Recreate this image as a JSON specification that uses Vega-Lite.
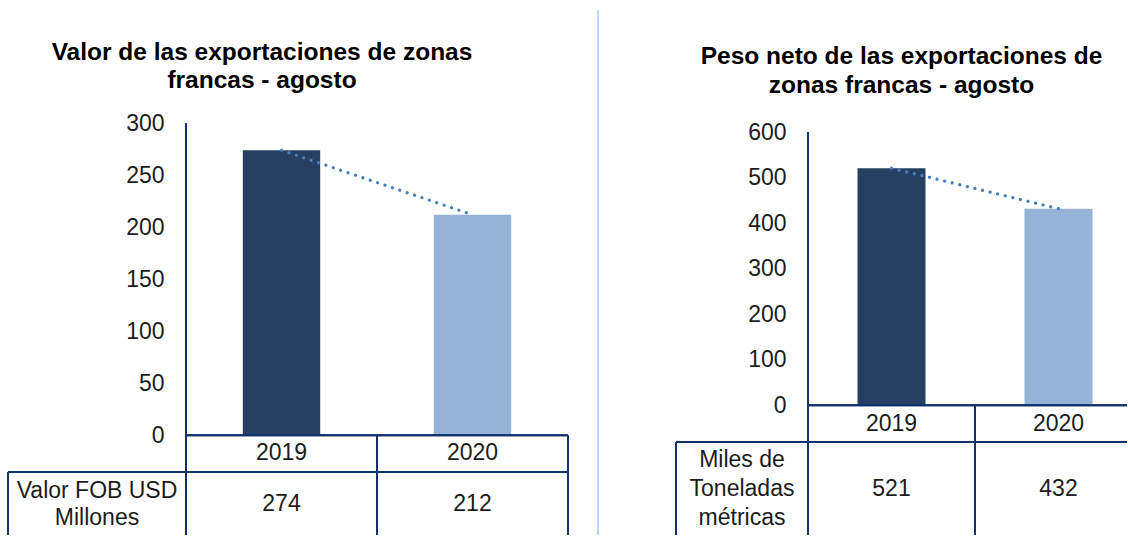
{
  "$schema": "https://vega.github.io/schema/vega-lite/v6.json",
  "padding": {"left": 7, "top": 9, "right": 0, "bottom": 0},
  "autosize": {"type": "pad"},
  "background": "white",
  "config": {
    "view": {"stroke": null},
    "font": "Liberation Sans",
    "text": {"font": "Liberation Sans", "fontSize": 23, "color": "#1c1c1c"}
  },
  "bounds": "flush",
  "spacing": 0,
  "resolve": {"scale": {"x": "independent", "y": "independent"}},
  "hconcat": [
    {
      "width": 178,
      "height": 525,
      "data": {"values": [{"label": "Valor FOB USD\nMillones"}]},
      "layer": [
        {
          "mark": {"type": "rule", "color": "#13306E", "strokeWidth": 2},
          "encoding": {
            "y": {"datum": -35.29, "type": "quantitative", "scale": {"domain": [-95.91, 408.89], "nice": false, "zero": false}, "axis": null}
          }
        },
        {
          "mark": {"type": "rule", "color": "#13306E", "strokeWidth": 2},
          "encoding": {
            "x": {"datum": 0, "type": "quantitative", "scale": {"domain": [0, 1]}, "axis": null},
            "y": {"datum": -35.29, "type": "quantitative"},
            "y2": {"datum": -95.91}
          }
        },
        {
          "mark": {"type": "text", "lineBreak": "\n", "lineHeight": 27.5, "align": "center", "baseline": "middle", "font": "Liberation Sans", "fontSize": 23, "color": "#1c1c1c"},
          "encoding": {
            "text": {"field": "label", "type": "nominal"},
            "y": {"datum": -53.56, "type": "quantitative"}
          }
        }
      ]
    },
    {
      "width": 382,
      "height": 525,
      "title": {
        "text": ["Valor de las exportaciones de zonas", "francas - agosto"],
        "font": "Liberation Sans", "fontSize": 24.5, "fontWeight": "bold", "color": "#000000",
        "anchor": "middle", "frame": "group", "dx": -115, "offset": -95.5, "baseline": "middle", "lineHeight": 28.5
      },
      "data": {"values": [{"year": "2019", "value": 274}, {"year": "2020", "value": 212}]},
      "layer": [
        {
          "mark": {"type": "bar", "width": {"band": 0.405}},
          "encoding": {
            "x": {"field": "year", "type": "nominal", "scale": {"domain": ["2019", "2020"], "paddingInner": 0, "paddingOuter": 0}, "axis": null},
            "y": {
              "field": "value", "type": "quantitative",
              "scale": {"domain": [-95.91, 408.89], "nice": false, "zero": false},
              "axis": {"values": [0, 50, 100, 150, 200, 250, 300], "domain": false, "ticks": false, "grid": false, "title": null, "labelPadding": 22, "labelFont": "Liberation Sans", "labelFontSize": 23, "labelColor": "#1c1c1c", "labelFlush": false, "labelOverlap": false}
            },
            "color": {"field": "year", "type": "nominal", "scale": {"domain": ["2019", "2020"], "range": ["#264061", "#95B3D7"]}, "legend": null}
          }
        },
        {
          "mark": {"type": "line", "color": "#4A7EBB", "strokeWidth": 3.2, "strokeDash": [0.1, 7.7], "strokeCap": "round"},
          "encoding": {
            "x": {"field": "year", "type": "nominal"},
            "y": {"field": "value", "type": "quantitative"}
          }
        },
        {
          "mark": {"type": "rule", "color": "#13306E", "strokeWidth": 2},
          "encoding": {
            "x": {"field": "year", "type": "nominal", "bandPosition": 1},
            "y": {"datum": 0, "type": "quantitative"},
            "y2": {"datum": -95.91}
          }
        },
        {
          "mark": {"type": "rule", "color": "#13306E", "strokeWidth": 2},
          "encoding": {
            "x": {"datum": "2019", "type": "nominal", "bandPosition": 0},
            "y": {"datum": 300, "type": "quantitative"},
            "y2": {"datum": -95.91}
          }
        },
        {
          "mark": {"type": "rule", "color": "#13306E", "strokeWidth": 2},
          "encoding": {"y": {"datum": 0, "type": "quantitative"}}
        },
        {
          "mark": {"type": "rule", "color": "#13306E", "strokeWidth": 2},
          "encoding": {"y": {"datum": -35.29, "type": "quantitative"}}
        },
        {
          "mark": {"type": "text", "align": "center", "baseline": "middle", "font": "Liberation Sans", "fontSize": 23, "color": "#1c1c1c"},
          "encoding": {
            "x": {"field": "year", "type": "nominal"},
            "text": {"field": "year", "type": "nominal"},
            "y": {"datum": -17.31, "type": "quantitative"}
          }
        },
        {
          "mark": {"type": "text", "align": "center", "baseline": "middle", "font": "Liberation Sans", "fontSize": 23, "color": "#1c1c1c"},
          "encoding": {
            "x": {"field": "year", "type": "nominal"},
            "text": {"field": "value", "type": "quantitative"},
            "y": {"datum": -66.35, "type": "quantitative"}
          }
        }
      ]
    },
    {
      "width": 30,
      "height": 525,
      "data": {"values": [{"divider": "panel"}]},
      "mark": {"type": "rule", "color": "#A9C4E8", "strokeWidth": 1.5},
      "encoding": {"x": {"datum": 1, "type": "quantitative", "scale": {"domain": [0, 1]}, "axis": null}}
    },
    {
      "width": 78,
      "height": 525,
      "data": {"values": [{"divider": "gap"}]},
      "mark": {"type": "rule", "opacity": 0},
      "encoding": {"x": {"datum": 0, "type": "quantitative", "scale": {"domain": [0, 1]}, "axis": null}}
    },
    {
      "width": 132,
      "height": 525,
      "data": {"values": [{"label": "Miles de\nToneladas\nmétricas"}]},
      "layer": [
        {
          "mark": {"type": "rule", "color": "#13306E", "strokeWidth": 2},
          "encoding": {
            "y": {"datum": -80.66, "type": "quantitative", "scale": {"domain": [-285.16, 868.68], "nice": false, "zero": false}, "axis": null}
          }
        },
        {
          "mark": {"type": "rule", "color": "#13306E", "strokeWidth": 2},
          "encoding": {
            "x": {"datum": 0, "type": "quantitative", "scale": {"domain": [0, 1]}, "axis": null},
            "y": {"datum": -80.66, "type": "quantitative"},
            "y2": {"datum": -285.16}
          }
        },
        {
          "mark": {"type": "text", "lineBreak": "\n", "lineHeight": 29, "align": "center", "baseline": "middle", "font": "Liberation Sans", "fontSize": 23, "color": "#1c1c1c"},
          "encoding": {
            "text": {"field": "label", "type": "nominal"},
            "y": {"datum": -120.88, "type": "quantitative"}
          }
        }
      ]
    },
    {
      "width": 319,
      "height": 525,
      "title": {
        "text": ["Peso neto de las exportaciones de", "zonas francas - agosto"],
        "font": "Liberation Sans", "fontSize": 24.5, "fontWeight": "bold", "color": "#000000",
        "anchor": "middle", "frame": "group", "dx": -66, "offset": -100.25, "baseline": "middle", "lineHeight": 28.5
      },
      "data": {"values": [{"year": "2019", "value": 521}, {"year": "2020", "value": 432}]},
      "layer": [
        {
          "mark": {"type": "bar", "width": {"band": 0.407}},
          "encoding": {
            "x": {"field": "year", "type": "nominal", "scale": {"domain": ["2019", "2020"], "paddingInner": 0, "paddingOuter": 0, "range": [0, 334]}, "axis": null},
            "y": {
              "field": "value", "type": "quantitative",
              "scale": {"domain": [-285.16, 868.68], "nice": false, "zero": false},
              "axis": {"values": [0, 100, 200, 300, 400, 500, 600], "domain": false, "ticks": false, "grid": false, "title": null, "labelPadding": 22, "labelFont": "Liberation Sans", "labelFontSize": 23, "labelColor": "#1c1c1c", "labelFlush": false, "labelOverlap": false}
            },
            "color": {"field": "year", "type": "nominal", "scale": {"domain": ["2019", "2020"], "range": ["#264061", "#95B3D7"]}, "legend": null}
          }
        },
        {
          "mark": {"type": "line", "color": "#4A7EBB", "strokeWidth": 3.2, "strokeDash": [0.1, 7.7], "strokeCap": "round"},
          "encoding": {
            "x": {"field": "year", "type": "nominal"},
            "y": {"field": "value", "type": "quantitative"}
          }
        },
        {
          "mark": {"type": "rule", "color": "#13306E", "strokeWidth": 2, "clip": true},
          "encoding": {
            "x": {"field": "year", "type": "nominal", "bandPosition": 1},
            "y": {"datum": 0, "type": "quantitative"},
            "y2": {"datum": -285.16}
          }
        },
        {
          "mark": {"type": "rule", "color": "#13306E", "strokeWidth": 2},
          "encoding": {
            "x": {"datum": "2019", "type": "nominal", "bandPosition": 0},
            "y": {"datum": 600, "type": "quantitative"},
            "y2": {"datum": -285.16}
          }
        },
        {
          "mark": {"type": "rule", "color": "#13306E", "strokeWidth": 2},
          "encoding": {"y": {"datum": 0, "type": "quantitative"}}
        },
        {
          "mark": {"type": "rule", "color": "#13306E", "strokeWidth": 2},
          "encoding": {"y": {"datum": -80.66, "type": "quantitative"}}
        },
        {
          "mark": {"type": "text", "align": "center", "baseline": "middle", "font": "Liberation Sans", "fontSize": 23, "color": "#1c1c1c"},
          "encoding": {
            "x": {"field": "year", "type": "nominal"},
            "text": {"field": "year", "type": "nominal"},
            "y": {"datum": -40.2, "type": "quantitative"}
          }
        },
        {
          "mark": {"type": "text", "align": "center", "baseline": "middle", "font": "Liberation Sans", "fontSize": 23, "color": "#1c1c1c"},
          "encoding": {
            "x": {"field": "year", "type": "nominal"},
            "text": {"field": "value", "type": "quantitative"},
            "y": {"datum": -184.6, "type": "quantitative"}
          }
        }
      ]
    }
  ]
}
